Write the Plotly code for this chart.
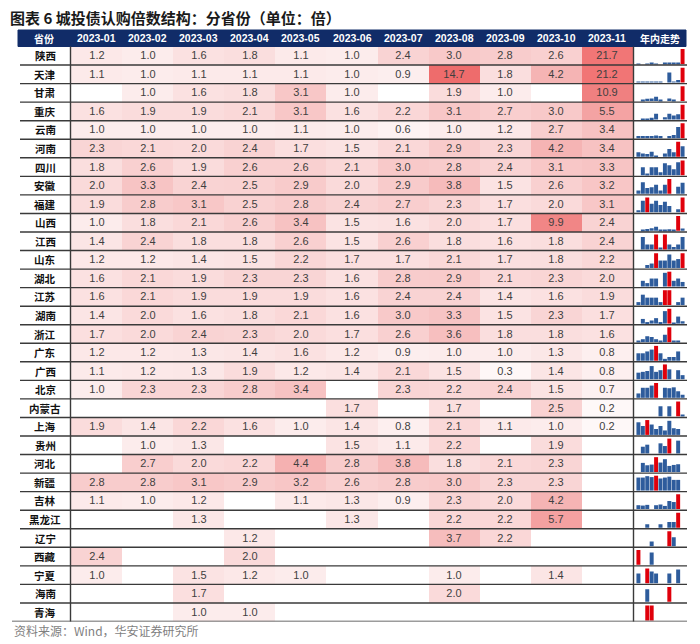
import plotly.graph_objects as go

months = ["2023-01", "2023-02", "2023-03", "2023-04", "2023-05", "2023-06",
          "2023-07", "2023-08", "2023-09", "2023-10", "2023-11"]
provinces = ["陕西", "天津", "甘肃", "重庆", "云南", "河南", "四川", "安徽", "福建", "山西",
             "江西", "山东", "湖北", "江苏", "湖南", "浙江", "广东", "广西", "北京", "内蒙古",
             "上海", "贵州", "河北", "新疆", "吉林", "黑龙江", "辽宁", "西藏", "宁夏", "海南", "青海"]
N = None
shaanxi = [1.2, 1.0, 1.6, 1.8, 1.1, 1.0, 2.4, 3.0, 2.8, 2.6, 21.7]
tianjin = [1.1, 1.0, 1.1, 1.1, 1.1, 1.0, 0.9, 14.7, 1.8, 4.2, 21.2]
gansu = [N, 1.0, 1.6, 1.8, 3.1, 1.0, N, 1.9, 1.0, N, 10.9]
chongqing = [1.6, 1.9, 1.9, 2.1, 3.1, 1.6, 2.2, 3.1, 2.7, 3.0, 5.5]
yunnan = [1.0, 1.0, 1.0, 1.0, 1.1, 1.0, 0.6, 1.0, 1.2, 2.7, 3.4]
henan = [2.3, 2.1, 2.0, 2.4, 1.7, 1.5, 2.1, 2.9, 2.3, 4.2, 3.4]
sichuan = [1.8, 2.6, 1.9, 2.6, 2.6, 2.1, 3.0, 2.8, 2.4, 3.1, 3.3]
anhui = [2.0, 3.3, 2.4, 2.5, 2.9, 2.0, 2.9, 3.8, 1.5, 2.6, 3.2]
fujian = [1.9, 2.8, 3.1, 2.5, 2.8, 2.4, 2.7, 2.3, 1.7, 2.0, 3.1]
shanxi = [1.0, 1.8, 2.1, 2.6, 3.4, 1.5, 1.6, 2.0, 1.7, 9.9, 2.4]
jiangxi = [1.4, 2.4, 1.8, 1.8, 2.6, 1.5, 2.6, 1.8, 1.6, 1.8, 2.4]
shandong = [1.2, 1.2, 1.4, 1.5, 2.2, 1.7, 1.7, 2.1, 1.7, 1.8, 2.2]
hubei = [1.6, 2.1, 1.9, 2.3, 2.3, 1.6, 2.8, 2.9, 2.1, 2.3, 2.0]
jiangsu = [1.6, 2.1, 1.9, 1.9, 1.9, 1.6, 2.4, 2.4, 1.4, 1.6, 1.9]
hunan = [1.4, 2.0, 1.6, 1.8, 2.1, 1.6, 3.0, 3.3, 1.5, 2.3, 1.7]
zhejiang = [1.7, 2.0, 2.4, 2.3, 2.0, 1.7, 2.6, 3.6, 1.8, 1.8, 1.6]
guangdong = [1.2, 1.2, 1.3, 1.4, 1.6, 1.2, 0.9, 1.0, 1.0, 1.3, 0.8]
guangxi = [1.1, 1.2, 1.3, 1.9, 1.2, 1.4, 2.1, 1.5, 0.3, 1.4, 0.8]
beijing = [1.0, 2.3, 2.3, 2.8, 3.4, N, 2.3, 2.2, 2.4, 1.5, 0.7]
neimenggu = [N, N, N, N, N, 1.7, N, 1.7, N, 2.5, 0.2]
shanghai = [1.9, 1.4, 2.2, 1.6, 1.0, 1.4, 0.8, 2.1, 1.1, 1.0, 0.2]
guizhou = [N, 1.0, 1.3, N, N, 1.5, 1.1, 2.2, N, 1.9, N]
hebei = [N, 2.7, 2.0, 2.2, 4.4, 2.8, 3.8, 1.8, 2.1, 2.3, N]
xinjiang = [2.8, 2.8, 3.1, 2.9, 3.2, 2.6, 2.8, 3.0, 2.3, 2.3, N]
jilin = [1.1, 1.0, 1.2, N, 1.1, 1.3, 0.9, 2.3, 2.0, 4.2, N]
heilongjiang = [N, N, 1.3, N, N, 1.3, N, 2.2, 2.2, 5.7, N]
liaoning = [N, N, N, 1.2, N, N, N, 3.7, 2.2, N, N]
xizang = [2.4, N, N, 2.0, N, N, N, N, N, N, N]
ningxia = [1.0, N, 1.5, 1.2, 1.0, N, N, 1.0, N, 1.4, N]
hainan = [N, N, 1.7, N, N, N, N, 2.0, N, N, N]
qinghai = [N, N, 1.0, 1.0, N, N, N, N, N, N, N]

rows = [shaanxi, tianjin, gansu, chongqing, yunnan, henan, sichuan, anhui, fujian, shanxi,
        jiangxi, shandong, hubei, jiangsu, hunan, zhejiang, guangdong, guangxi, beijing,
        neimenggu, shanghai, guizhou, hebei, xinjiang, jilin, heilongjiang, liaoning,
        xizang, ningxia, hainan, qinghai]

# page body has an 8px margin: figure drawn at offset (8, 8)
OFF = 8
W, H = 700 - OFF, 644 - OFF
def px(x):
    return (x - OFF) / W
def py(y):
    return 1 - (y - OFF) / H

n = len(provinces)
ys = [n - 1 - i for i in range(n)]
TOP, BOT = 46.5, 621.5
X0, X1 = 71.0, 633.0
cw = (X1 - X0) / len(months)

text = [["" if v is None else f"{v:.1f}" for v in r] for r in rows]

zmax = 22.0
cs = [
    [0.0, "#FFFFFF"],
    [0.2 / zmax, "#FEF8F8"],
    [1.0 / zmax, "#FCECEC"],
    [2.0 / zmax, "#FADADA"],
    [3.0 / zmax, "#F8C9C9"],
    [4.2 / zmax, "#F5B4B4"],
    [5.6 / zmax, "#F4A2A2"],
    [10.0 / zmax, "#F18585"],
    [14.7 / zmax, "#EE6C6C"],
    [1.0, "#F17676"],
]

fig = go.Figure()
fig.add_trace(go.Heatmap(
    z=rows, x=list(range(len(months))), y=ys, text=text, texttemplate="%{text}",
    textfont=dict(size=11, color="#3F3F3F", family="Liberation Sans"),
    colorscale=cs, zmin=0, zmax=zmax, showscale=False, hoverinfo="skip",
    xaxis="x", yaxis="y"))

# sparklines
bx, bh, bb, bc = [], [], [], []
for i, r in enumerate(rows):
    vals = [v for v in r if v is not None]
    base = 0.0 if len(vals) < len(r) else min(vals)
    top = max(vals)
    span = top - base
    for j, v in enumerate(r):
        if v is None:
            continue
        h = 0.8 * ((v - base) / span if span > 0 else 1.0)
        bx.append(j)
        bh.append(h)
        bb.append(ys[i] - 0.44)
        bc.append("#E0000B" if v == top else "#2E5C9C")
fig.add_trace(go.Bar(x=bx, y=bh, base=bb, marker=dict(color=bc, line=dict(width=0)),
                     width=0.9, xaxis="x2", yaxis="y", hoverinfo="skip", showlegend=False))

shapes = []
shapes.append(dict(type="rect", xref="paper", yref="paper", x0=px(18), x1=px(686),
                   y0=py(TOP), y1=py(30), fillcolor="#112C68", opacity=1, layer="above",
                   line=dict(color="#112C68", width=1)))
for k in range(n):
    y = k - 0.5
    shapes.append(dict(type="line", xref="paper", yref="y", x0=px(12 if k == 0 else 20),
                       x1=px(687), y0=y, y1=y, line=dict(color="#3A3A3A", width=1.4)))
for xv in (70.5, 633.5):
    shapes.append(dict(type="line", xref="paper", yref="paper", x0=px(xv), x1=px(xv),
                       y0=py(BOT), y1=py(TOP), line=dict(color="#3A3A3A", width=1.4)))

ann = []
def note(txt, x, y, size, color, family, xanchor="center", yref="paper"):
    ann.append(dict(text=txt, x=x, y=y, xref="paper", yref=yref, xanchor=xanchor,
                    yanchor="middle", showarrow=False,
                    font=dict(size=size, color=color, family=family)))

note("<b>图表 6 城投债认购倍数结构：分省份（单位：倍）</b>", px(8), py(18), 15, "#1A1A1A",
     "Noto Sans CJK SC", xanchor="left")
note("资料来源：Wind，华安证券研究所", px(12), py(630), 12, "#7F7F7F", "Noto Sans CJK SC",
     xanchor="left")
hy = py((30 + TOP) / 2)
note("<b>省份</b>", px(44), hy, 10, "white", "Noto Sans CJK SC")
for j, m in enumerate(months):
    note("<b>" + m + "</b>", px(X0 + cw * (j + 0.5)), hy, 10.5, "white", "Liberation Sans")
note("<b>年内走势</b>", px(660), hy, 10, "white", "Noto Sans CJK SC")
for i, p in enumerate(provinces):
    note("<b>" + p + "</b>", px(45), ys[i], 10.5, "#111111", "Noto Sans CJK SC", yref="y")

fig.update_layout(
    width=W, height=H, autosize=False,
    margin=dict(l=0, r=0, t=0, b=0),
    paper_bgcolor="white", plot_bgcolor="rgba(0,0,0,0)",
    barmode="overlay", showlegend=False,
    xaxis=dict(domain=[px(X0), px(X1)], range=[-0.5, len(months) - 0.5], visible=False,
               fixedrange=True),
    xaxis2=dict(domain=[px(636), px(685)], range=[-0.55, len(months) - 0.45], visible=False,
                anchor="y", fixedrange=True),
    yaxis=dict(domain=[py(BOT), py(TOP)], range=[-0.5, n - 0.5], visible=False, fixedrange=True),
    shapes=shapes, annotations=ann,
)

fig.write_html("out.html")
